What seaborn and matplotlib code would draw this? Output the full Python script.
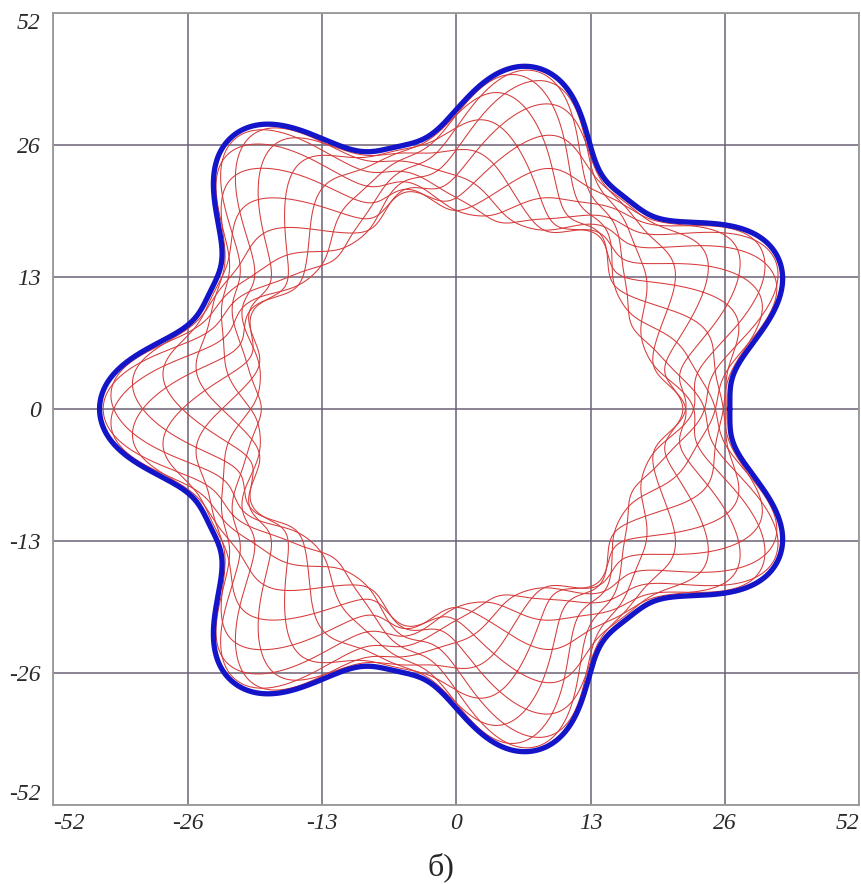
import numpy as np
import pandas as pd
import matplotlib
matplotlib.use("Agg")
import matplotlib.pyplot as plt
import seaborn as sns

# ---- data -----------------------------------------------------------------
n_lobes = 7                      # lobes of the outer contour
lobe_axis_deg = 180.0            # a lobe sits on the negative x axis
# starting phase of each traced point (deg); each trajectory closes after
# two turns, so these six give twelve strands in every lobe
curve_phase_deg = [0, 30, 60, 90, 120, 150]
laps = 2
twist_per_lobe = 0.5             # turns of a strand across the band per lobe
# centre line of the swept band: mean radius and harmonics in the lobe angle
band_centre = [24.77, 1.45, 0.50, -0.20]
# half-width of the band: constant part and first harmonic
band_halfwidth = [4.875, 2.775]
contour_gap = 0.35               # blue contour drawn just outside the band

tick_pos = [-39, -26, -13, 0, 13, 26, 39]
tick_text = ["-52", "-26", "-13", "0", "13", "26", "52"]


def band(theta):
    ang = n_lobes * (theta - np.radians(lobe_axis_deg))
    c = band_centre[0] + sum(k_c * np.cos(k * ang)
                             for k, k_c in enumerate(band_centre[1:], start=1))
    h = band_halfwidth[0] + band_halfwidth[1] * np.cos(ang)
    return ang, c, h


# ---- geometry -------------------------------------------------------------
theta = np.linspace(0.0, 2.0 * np.pi * laps, 6001)
lobe_ang, centre, half = band(theta)

frames = []
for i, ph in enumerate(curve_phase_deg):
    u = np.radians(ph)
    r = centre + half * np.cos(u - twist_per_lobe * lobe_ang)
    frames.append(pd.DataFrame({"x": r * np.cos(theta),
                                "y": r * np.sin(theta),
                                "curve": i}))
paths = pd.concat(frames, ignore_index=True)

theta_c = np.linspace(0.0, 2.0 * np.pi, 3001)
_, c_c, h_c = band(theta_c)
r_env = c_c + h_c + contour_gap
contour = pd.DataFrame({"x": r_env * np.cos(theta_c), "y": r_env * np.sin(theta_c)})

# ---- figure ---------------------------------------------------------------
sns.set_style("white")
plt.rcParams["font.family"] = ["Liberation Serif", "DejaVu Serif"]

fig = plt.figure(figsize=(8.62, 8.84), dpi=100)
ax = fig.add_axes([0.0618, 0.0897, 0.9351, 0.8953])

sns.lineplot(data=paths, x="x", y="y", units="curve", estimator=None,
             sort=False, color="#d63a3a", lw=0.75, ax=ax, legend=False)
sns.lineplot(data=contour, x="x", y="y", estimator=None, sort=False,
             color="#1414c8", lw=3.8, ax=ax, legend=False)

ax.set_xlim(tick_pos[0], tick_pos[-1])
ax.set_ylim(tick_pos[0], tick_pos[-1])
ax.set_xticks(tick_pos)
ax.set_yticks(tick_pos)
ax.set_xticklabels(tick_text)
ax.set_yticklabels(tick_text)
ax.set_xlabel("")
ax.set_ylabel("")
ax.set_axisbelow(True)
ax.grid(True, color="#6c6274", lw=1.1)

for s in ax.spines.values():
    s.set_color("#9a9a9a")
    s.set_linewidth(1.3)

ax.tick_params(axis="both", length=0, labelsize=17, labelcolor="#2a2a2a")
ax.tick_params(axis="x", pad=6)
ax.tick_params(axis="y", pad=9)
for lab in ax.get_xticklabels() + ax.get_yticklabels():
    lab.set_fontstyle("italic")
xl = ax.get_xticklabels()
xl[0].set_ha("left")
xl[-1].set_ha("right")
yl = ax.get_yticklabels()
yl[0].set_va("bottom")
yl[-1].set_va("top")

fig.text(0.511, 0.019, "б)", ha="center", va="center", fontsize=23)

fig.savefig("out.png", dpi=100)
